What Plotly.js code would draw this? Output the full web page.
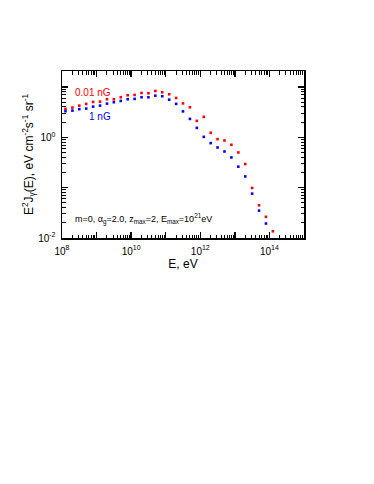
<!DOCTYPE html>
<html>
<head>
<meta charset="utf-8">
<script src="https://cdn.plot.ly/plotly-3.0.1.min.js"></script>
<style>
  html, body { margin: 0; padding: 0; background: #fff; }
  #chart { width: 374px; height: 484px; }
</style>
</head>
<body>
<div id="chart"></div>
<script>
// energies, eV (0.2 decade apart)
const energy = [1.26e8, 2.0e8, 3.16e8, 5.01e8, 7.94e8, 1.26e9, 2.0e9, 3.16e9, 5.01e9, 7.94e9,
  1.26e10, 2.0e10, 3.16e10, 5.01e10, 7.94e10, 1.26e11, 2.0e11, 3.16e11, 5.01e11, 7.94e11,
  1.26e12, 2.0e12, 3.16e12, 5.01e12, 7.94e12, 1.26e13, 2.0e13, 3.16e13, 5.01e13, 7.94e13, 1.26e14];

// B = 0.01 nG
const flux001 = [3.67, 3.89, 4.26, 4.61, 5.05, 5.12, 5.71, 5.71, 6.25, 6.85,
  6.95, 7.61, 7.50, 8.33, 7.85, 7.17, 6.05, 4.71, 3.96, 2.12,
  2.55, 1.23, 0.92, 0.865, 0.71, 0.50, 0.294, 0.0986, 0.0447, 0.0263, 0.0136];

// B = 1 nG
const flux1 = [3.30, 3.39, 3.62, 3.72, 4.07, 4.26, 4.67, 4.98, 5.28, 5.71,
  5.79, 6.25, 6.25, 6.72, 6.54, 5.60, 4.61, 3.27, 2.32, 1.54,
  1.02, 0.767, 0.628, 0.523, 0.398, 0.261, 0.167, 0.076, 0.035, 0.0194];

// labelled decades
const xTickVals = [1e8, 1e10, 1e12, 1e14];
const xTickText = ['10<sup>8</sup>', '10<sup>10</sup>', '10<sup>12</sup>', '10<sup>14</sup>'];
const yTickVals = [0.01, 1];
const yTickText = ['10<sup>-2</sup>', '10<sup>0</sup>'];

const font = 'Arial, "Liberation Sans", sans-serif';
const xRange = [8, 15];
const yRange = [-2, 1.317];

const traces = [
  {
    x: energy, y: flux001,
    type: 'scatter', mode: 'markers',
    marker: { color: '#ff0000', size: 2.6, symbol: 'square' },
    name: '0.01 nG'
  },
  {
    x: energy.slice(0, flux1.length), y: flux1,
    type: 'scatter', mode: 'markers',
    marker: { color: '#0000ff', size: 2.6, symbol: 'square' },
    name: '1 nG'
  },
  // empty trace so the tick-mark overlay axes get drawn
  { x: [], y: [], type: 'scatter', mode: 'markers', xaxis: 'x2', yaxis: 'y2', hoverinfo: 'skip', showlegend: false }
];

// main axes: frame + labels only
const labelAxis = {
  type: 'log',
  tickmode: 'array',
  showgrid: false,
  zeroline: false,
  showline: true,
  linecolor: '#000',
  linewidth: 1.5,
  mirror: true,
  ticks: '',
  ticklabelstandoff: 3,
  tickfont: { family: font, size: 10, color: '#000' }
};

// overlay axes: tick marks on all four sides, every decade + minor 2..9
const tickAxis = {
  type: 'log',
  tickmode: 'linear',
  tick0: 0,
  dtick: 1,
  showticklabels: false,
  showgrid: false,
  zeroline: false,
  showline: false,
  mirror: 'allticks',
  ticks: 'inside',
  ticklen: 6,
  tickwidth: 1.5,
  tickcolor: '#000',
  minor: { tickmode: 'linear', tick0: 0, dtick: 'D1', ticks: 'inside', ticklen: 3.5, tickwidth: 1, tickcolor: '#000', showgrid: false }
};

const layout = {
  width: 374,
  height: 484,
  margin: { l: 62, r: 70, t: 71, b: 245.5 },
  paper_bgcolor: '#fff',
  showlegend: false,
  font: { family: font, color: '#000' },
  xaxis: Object.assign({}, labelAxis, {
    range: xRange,
    tickvals: xTickVals,
    ticktext: xTickText,
    title: { text: 'E, eV', font: { family: font, size: 12 }, standoff: 4 }
  }),
  yaxis: Object.assign({}, labelAxis, {
    range: yRange,
    tickvals: yTickVals,
    ticktext: yTickText,
    title: {
      text: 'E<sup>2</sup>J<sub>γ</sub>(E), eV cm<sup>-2</sup>s<sup>-1</sup> sr<sup>-1</sup>',
      font: { family: font, size: 12 },
      standoff: 2
    }
  }),
  xaxis2: Object.assign({}, tickAxis, { overlaying: 'x', anchor: 'y2', side: 'bottom', range: xRange }),
  yaxis2: Object.assign({}, tickAxis, { overlaying: 'y', anchor: 'x2', side: 'left', range: yRange }),
  annotations: [
    {
      xref: 'paper', yref: 'paper', x: 0.130, y: 0.869,
      xanchor: 'center', yanchor: 'middle',
      text: '0.01 nG', showarrow: false,
      font: { family: font, size: 10, color: '#ff0000' }
    },
    {
      xref: 'paper', yref: 'paper', x: 0.159, y: 0.725,
      xanchor: 'center', yanchor: 'middle',
      text: '1 nG', showarrow: false,
      font: { family: font, size: 10, color: '#0000ff' }
    },
    {
      xref: 'paper', yref: 'paper', x: 0.045, y: 0.116,
      xanchor: 'left', yanchor: 'middle',
      text: 'm=0, α<sub>g</sub>=2.0, z<sub>max</sub>=2, E<sub>max</sub>=10<sup>21</sup>eV',
      showarrow: false,
      font: { family: font, size: 9, color: '#000' }
    }
  ]
};

Plotly.newPlot('chart', traces, layout, { displayModeBar: false, staticPlot: true });
</script>
</body>
</html>
